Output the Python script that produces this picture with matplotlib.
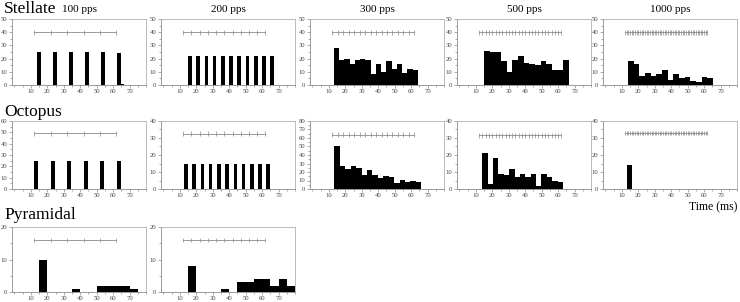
import matplotlib
matplotlib.use("Agg")
import matplotlib.pyplot as plt
from matplotlib.ticker import MultipleLocator
import numpy as np

plt.rcParams['font.family'] = ['Liberation Serif', 'DejaVu Serif']

rates = ["100 pps", "200 pps", "300 pps", "500 pps", "1000 pps"]
cells = ["Stellate", "Octopus", "Pyramidal"]
stim_period = [10, 5, 10 / 3, 2, 1]   # ms between pulses
stim_onset = 12
stim_offset = 62

# Stellate histograms: bar left edges (ms), widths, counts
stel_lefts = [
    [13.6, 23.3, 33.2, 42.8, 52.7, 62.1, 64.5],
    [15, 20, 25, 30, 35, 40, 45, 50, 55, 60, 65],
    None, None, None,
]
stel_width = [2.4, 2.2, 3.2, 3.43, 3.45]
stel_start = [None, None, 13.0, 15.0, 13.7]
stel_counts = [
    [25, 25, 25, 25, 25, 24, 1],
    [22, 22, 22, 22, 22, 22, 22, 22, 22, 22, 22],
    [28, 19, 20, 16, 19, 20, 19, 8, 16, 10, 18, 12, 16, 9, 12, 11],
    [26, 25, 25, 18, 10, 19, 22, 17, 16, 15, 18, 16, 11, 11, 19],
    [18, 16, 7, 9, 7, 8, 11, 4, 8, 5, 6, 3, 2, 6, 5],
]
stel_ymax = [50, 50, 50, 50, 50]
stel_stim_y = [40, 40, 40, 40, 40]

# Octopus
oct_lefts = [
    [12, 22.1, 32.2, 42.2, 52.2, 62.2],
    [12.6, 17.6, 22.6, 27.6, 32.6, 37.6, 42.6, 47.6, 52.6, 57.6, 62.6],
    None, None, [13.0],
]
oct_width = [2.3, 2.2, 3.3, 3.28, 3.4]
oct_start = [None, None, 13.4, 13.8, None]
oct_counts = [
    [25, 25, 25, 25, 25, 25],
    [15, 15, 15, 15, 15, 15, 15, 15, 15, 15, 15],
    [50, 27, 23, 27, 25, 16, 22, 16, 13, 15, 14, 7, 11, 8, 9, 8],
    [21, 3, 18, 9, 8, 12, 7, 9, 7, 9, 2, 9, 7, 5, 4],
    [14],
]
oct_ymax = [60, 40, 80, 40, 40]
oct_stim_y = [49, 32.5, 64, 31.5, 33]

# Pyramidal (5 ms bins starting at 15 ms)
pyr_start = 15
pyr_width = 5
pyr_counts = [
    [10, 0, 0, 0, 1, 0, 0, 2, 2, 2, 2, 1],
    [8, 0, 0, 0, 1, 0, 3, 3, 4, 4, 2, 4, 2],
]
pyr_ymax = [20, 20]
pyr_stim_y = [16, 16]

W, H = 740, 302
fig = plt.figure(figsize=(W / 100, H / 100), dpi=100)

col_left = [12, 161, 310, 457, 603]
col_w = 134
row_top = [19, 121, 227]
row_h = [66, 68, 65]

grey = "#8a8a8a"


def make_ax(col, row):
    l, t = col_left[col], row_top[row]
    ax = fig.add_axes([l / W, 1 - (t + row_h[row]) / H, col_w / W, row_h[row] / H])
    for s in ax.spines.values():
        s.set_color("#b0b0b0")
        s.set_linewidth(0.6)
    ax.spines['left'].set_color(grey)
    ax.spines['bottom'].set_color(grey)
    ax.tick_params(which='both', direction='out', colors=grey, labelcolor="#444444",
                   labelsize=4.8, width=0.5, pad=1.2)
    ax.tick_params(which='major', length=2)
    ax.tick_params(which='minor', length=1.5)
    ax.set_xlim(-1.5, 80)
    ax.xaxis.set_major_locator(MultipleLocator(10))
    ax.xaxis.set_minor_locator(MultipleLocator(5))
    ax.set_xticks([10, 20, 30, 40, 50, 60, 70])
    return ax


def stim_marker(ax, period, y, ymax):
    times = np.arange(stim_onset, stim_offset + 0.01, period)
    ax.plot([stim_onset, stim_offset], [y, y], color=grey, lw=0.6)
    ax.vlines(times, y - ymax * 0.035, y + ymax * 0.035, color=grey, lw=0.5)


def histo(ax, lefts, width, counts, ymax, stim_y, period):
    ax.bar(lefts, counts, width=width, align='edge', color='black', linewidth=0)
    ax.set_ylim(0, ymax)
    ax.yaxis.set_major_locator(MultipleLocator(10))
    ax.yaxis.set_minor_locator(MultipleLocator(5))
    stim_marker(ax, period, stim_y, ymax)


for i in range(5):
    ax = make_ax(i, 0)
    lefts = stel_lefts[i]
    if lefts is None:
        lefts = stel_start[i] + stel_width[i] * np.arange(len(stel_counts[i]))
    histo(ax, lefts, stel_width[i], stel_counts[i], stel_ymax[i], stel_stim_y[i], stim_period[i])
    fig.text((col_left[i] + col_w / 2) / W, 1 - 9 / H, rates[i], ha='center', va='center',
             fontsize=8)

for i in range(5):
    ax = make_ax(i, 1)
    lefts = oct_lefts[i]
    if lefts is None:
        lefts = oct_start[i] + oct_width[i] * np.arange(len(oct_counts[i]))
    histo(ax, lefts, oct_width[i], oct_counts[i], oct_ymax[i], oct_stim_y[i], stim_period[i])

for i in range(2):
    ax = make_ax(i, 2)
    lefts = pyr_start + pyr_width * np.arange(len(pyr_counts[i]))
    histo(ax, lefts, pyr_width, pyr_counts[i], pyr_ymax[i], pyr_stim_y[i], stim_period[i])

fig.text(4 / W, 1 - 9 / H, cells[0], ha='left', va='center', fontsize=12.5)
fig.text(4 / W, 1 - 112 / H, cells[1], ha='left', va='center', fontsize=12.5)
fig.text(4 / W, 1 - 215 / H, cells[2], ha='left', va='center', fontsize=12.5)
fig.text(737 / W, 1 - 207 / H, "Time (ms)", ha='right', va='center', fontsize=8.5)

fig.savefig("out.png", dpi=100)
